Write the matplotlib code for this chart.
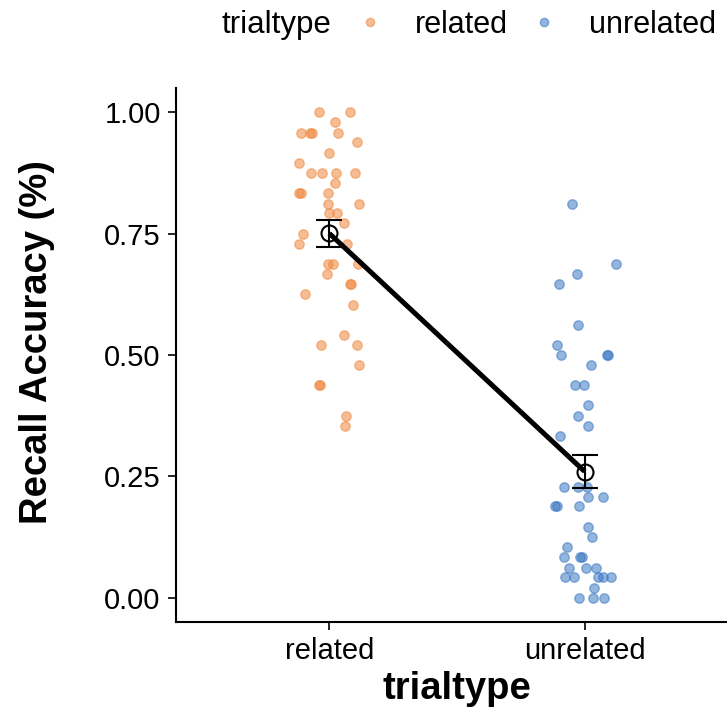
import numpy as np
import matplotlib
matplotlib.use("Agg")
import matplotlib.pyplot as plt
from matplotlib.lines import Line2D

plt.rcParams['font.family'] = ['Liberation Sans', 'DejaVu Sans']

# trial types on the x axis
categories = ['related', 'unrelated']

# per-participant recall accuracy
related_acc = [1.000, 1.000, 0.979, 0.958, 0.958, 0.958, 0.958, 0.938, 0.917, 0.896,
               0.875, 0.875, 0.875, 0.875, 0.854, 0.833, 0.833, 0.833, 0.812, 0.812,
               0.792, 0.792, 0.771, 0.750, 0.729, 0.729, 0.688, 0.688, 0.688, 0.667,
               0.646, 0.646, 0.625, 0.604, 0.541, 0.521, 0.521, 0.479, 0.438, 0.438,
               0.375, 0.354]
unrelated_acc = [0.812, 0.688, 0.667, 0.646, 0.562, 0.521, 0.500, 0.500, 0.500, 0.479,
                 0.438, 0.438, 0.396, 0.375, 0.354, 0.333, 0.229, 0.229, 0.229, 0.208,
                 0.208, 0.188, 0.188, 0.188, 0.146, 0.125, 0.104, 0.083, 0.083, 0.083,
                 0.062, 0.062, 0.062, 0.042, 0.042, 0.042, 0.042, 0.042, 0.021, 0.000,
                 0.000, 0.000]

# horizontal jitter of each point (category units)
related_jit = [-0.039, 0.083, 0.024, -0.110, -0.075, -0.067, 0.035, 0.110, 0.000, -0.118,
               -0.071, -0.028, 0.028, 0.102, 0.024, -0.118, -0.110, -0.004, -0.004, 0.118,
               0.000, 0.031, 0.059, -0.102, -0.118, 0.071, -0.004, 0.016, 0.114, -0.008,
               0.083, 0.087, -0.094, 0.094, 0.059, -0.031, 0.110, 0.118, -0.039, -0.035,
               0.067, 0.063]
unrelated_jit = [-0.051, 0.122, -0.031, -0.102, -0.028, -0.110, -0.094, 0.087, 0.091, 0.024,
                 -0.039, -0.004, 0.012, -0.028, 0.012, -0.098, -0.083, -0.028, 0.008, 0.012,
                 0.071, -0.118, -0.110, -0.024, 0.012, 0.028, -0.071, -0.083, -0.020, -0.012,
                 -0.063, 0.004, 0.043, -0.079, -0.043, 0.051, 0.071, 0.102, 0.035, -0.024,
                 0.031, 0.075]

colors = ['#F0883E', '#3A78C4']

fig = plt.figure(figsize=(7.27, 7.08), dpi=100)
ax = fig.add_axes([176/727, 1 - 622/708, (738-176)/727, (622-88)/708])

groups = [(related_acc, related_jit), (unrelated_acc, unrelated_jit)]
means, ses = [], []
for i, (vals, jit) in enumerate(groups):
    vals = np.array(vals)
    ax.scatter(i + 1 + np.array(jit), vals, s=46, color=colors[i], alpha=0.55,
               linewidths=1.0, edgecolors=colors[i], zorder=2)
    means.append(vals.mean())
    ses.append(vals.std(ddof=1) / np.sqrt(len(vals)))

xpos = [1, 2]
ax.plot(xpos, means, color='black', lw=3.6, zorder=3, solid_capstyle='butt')
ax.errorbar(xpos, means, yerr=ses, fmt='none', ecolor='black', elinewidth=1.5,
            capsize=9.5, capthick=1.5, zorder=4)
ax.plot(xpos, means, 'o', ms=11.5, mfc='none', mec='black', mew=1.5, zorder=5)

ax.set_xlim(0.4, 2.6)
ax.set_ylim(-0.05, 1.05)
ax.set_xticks(xpos)
ax.set_xticklabels(categories)
ax.set_yticks([0, 0.25, 0.5, 0.75, 1.0])
ax.set_yticklabels(['0.00', '0.25', '0.50', '0.75', '1.00'])
ax.tick_params(labelsize=21, length=6, width=1.2, pad=5, colors='black')
for s in ['top', 'right']:
    ax.spines[s].set_visible(False)
for s in ['left', 'bottom']:
    ax.spines[s].set_linewidth(1.5)

ax.set_xlabel('trialtype', fontsize=27.5, fontweight='bold', labelpad=4)
fig.text(37/727, 1 - 342/708, 'Recall Accuracy (%)', fontsize=27.5, fontweight='bold',
         rotation=90, ha='center', va='center')

# legend across the top
fig.text(222/727, 1 - 25/708, 'trialtype', fontsize=22.5, ha='left', va='center')
handles = [Line2D([], [], ls='none', marker='o', ms=6, color=c, alpha=0.55) for c in colors]
fig.legend(handles, categories, loc='center left', bbox_to_anchor=(355/727, 1 - 25/708),
           ncol=2, frameon=False, fontsize=22, handlelength=1.0, handletextpad=0.95,
           columnspacing=0.7, borderpad=0, borderaxespad=0)

fig.savefig('out.png', dpi=100)
